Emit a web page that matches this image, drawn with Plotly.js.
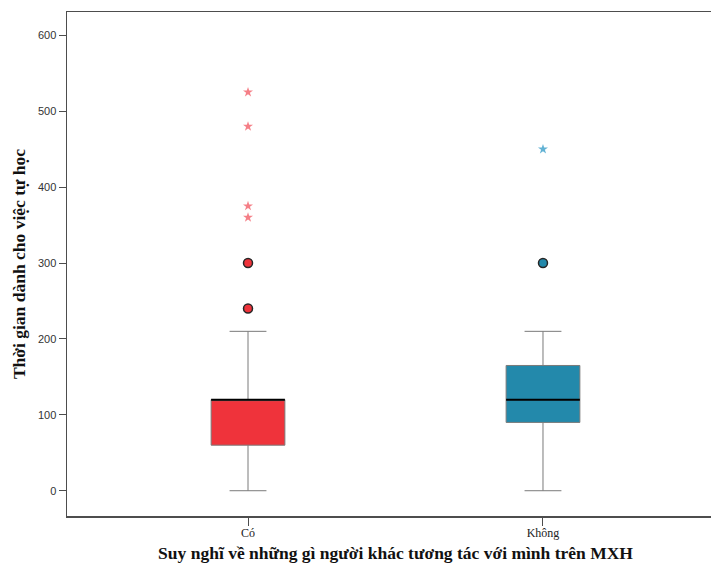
<!DOCTYPE html>
<html>
<head>
<meta charset="utf-8">
<script src="https://cdn.plot.ly/plotly-3.0.1.min.js"></script>
<style>
  html, body { margin: 0; padding: 0; overflow: hidden; background: #fff; }
  #chart { width: 730px; height: 565px; }
</style>
</head>
<body>
<div id="chart"></div>
<script>
// ---- Data ----
const categories = ["Có", "Không"];
const q1 = [60, 90];
const medians = [120, 120];
const q3 = [120, 165];
const lowerFence = [0, 0];
const upperFence = [210, 210];

// mild outliers (circles) and extreme outliers (stars)
const coOutliers = [300, 240];
const coExtremes = [525, 480, 375, 360];
const khongOutliers = [300];
const khongExtremes = [450];

const yTicks = [0, 100, 200, 300, 400, 500, 600];
const xTitle = "Suy nghĩ về những gì người khác tương tác với mình trên MXH";
const yTitle = "Thời gian dành cho việc tự học";

const fillColors = ["#EF333B", "#2389AB"];
const starColors = ["rgba(242,95,105,0.8)", "rgba(70,165,205,0.85)"];

const traces = [];
categories.forEach((c, i) => {
  traces.push({
    type: "box",
    x: [c],
    q1: [q1[i]], median: [medians[i]], q3: [q3[i]],
    lowerfence: [lowerFence[i]], upperfence: [upperFence[i]],
    width: 0.25, whiskerwidth: 0.5,
    fillcolor: fillColors[i],
    line: { color: "#7a7a7a", width: 1 },
    boxpoints: false,
    hoverinfo: "skip",
    showlegend: false
  });
  // black median line drawn as a flat box
  traces.push({
    type: "box",
    x: [c],
    q1: [medians[i]], median: [medians[i]], q3: [medians[i]],
    lowerfence: [medians[i]], upperfence: [medians[i]],
    width: 0.25, whiskerwidth: 0,
    fillcolor: "rgba(0,0,0,0)",
    line: { color: "#000000", width: 2 },
    boxpoints: false,
    hoverinfo: "skip",
    showlegend: false
  });
});

const outlierSets = [coOutliers, khongOutliers];
const extremeSets = [coExtremes, khongExtremes];
categories.forEach((c, i) => {
  traces.push({
    type: "scatter", mode: "markers",
    x: outlierSets[i].map(() => c), y: outlierSets[i],
    marker: { symbol: "circle", size: 9, color: fillColors[i], line: { color: "#262626", width: 1.5 } },
    showlegend: false, hoverinfo: "y"
  });
  traces.push({
    type: "scatter", mode: "markers",
    x: extremeSets[i].map(() => c), y: extremeSets[i],
    marker: { symbol: "star", size: 7.5, color: starColors[i], line: { width: 0 } },
    showlegend: false, hoverinfo: "y"
  });
});

const layout = {
  width: 730, height: 565,
  margin: { l: 67, r: 6, t: 12, b: 49 },
  paper_bgcolor: "#ffffff", plot_bgcolor: "#ffffff",
  showlegend: false,
  boxmode: "overlay",
  xaxis: {
    type: "category",
    categoryorder: "array", categoryarray: categories,
    range: [-0.6136, 1.6136],
    showgrid: false, zeroline: false,
    showline: true, mirror: true, linecolor: "#4d4d4d", linewidth: 1.5,
    ticks: "outside", ticklen: 8, tickcolor: "#4d4d4d", tickwidth: 1,
    ticklabelstandoff: -3,
    tickfont: { family: "Liberation Serif", size: 12, color: "#222" },
    title: { text: xTitle, standoff: 8, font: { family: "Liberation Serif", size: 17.5, color: "#111", weight: "bold" } }
  },
  yaxis: {
    range: [-33.3, 630.7],
    tickvals: yTicks,
    showgrid: false, zeroline: false,
    showline: true, linecolor: "#4d4d4d", linewidth: 1.5,
    ticks: "outside", ticklen: 7, tickcolor: "#4d4d4d", tickwidth: 1,
    tickfont: { family: "Liberation Sans", size: 11, color: "#333" },
    title: { text: yTitle, standoff: 8, font: { family: "Liberation Serif", size: 17.5, color: "#111", weight: "bold" } }
  }
};

Plotly.newPlot("chart", traces, layout, { displayModeBar: false, staticPlot: true });
</script>
</body>
</html>
